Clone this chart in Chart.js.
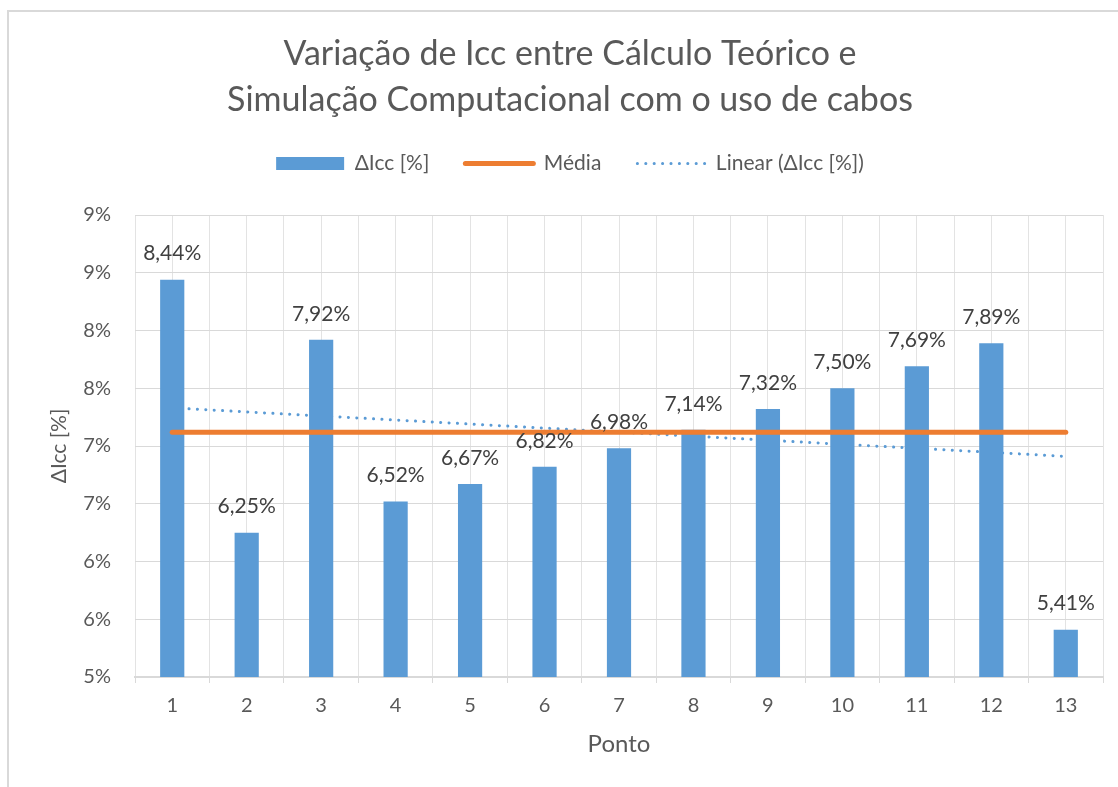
<!DOCTYPE html>
<html><head><meta charset="utf-8">
<script src="https://cdn.jsdelivr.net/npm/chart.js@4.4.1/dist/chart.umd.min.js"></script>
<style>
html,body{margin:0;padding:0;background:#fff;overflow:hidden;}
#frame{position:absolute;left:7px;top:10px;width:1111px;height:777px;border-left:2px solid #d9d9d9;border-top:2px solid #d9d9d9;box-sizing:border-box;}
#wrap{position:absolute;left:0;top:0;width:1118px;height:787px;}
</style></head>
<body>
<div id="frame"></div>
<div id="wrap"><canvas id="c" width="1118" height="787"></canvas></div>
<script>
// ---- data ----
const categories = ['1','2','3','4','5','6','7','8','9','10','11','12','13'];
const deltaIcc = [8.44, 6.25, 7.92, 6.52, 6.67, 6.82, 6.98, 7.14, 7.32, 7.50, 7.69, 7.89, 5.41];
const mediaValue = 7.12;
const trendEnds = [7.33, 6.91];     // linear trend value at point 1 and point 13
const yTickLabels = ['5%','6%','6%','7%','7%','8%','8%','9%','9%'];
const seriesNames = ['ΔIcc [%]', 'Média', 'Linear (ΔIcc [%])'];
const titleLines = ['Variação de Icc entre Cálculo Teórico e', 'Simulação Computacional com o uso de cabos'];

const BLUE = '#5b9bd5', ORANGE = '#ed7d31', TXT = '#595959';
Chart.defaults.font.family = 'Lato, "Open Sans", sans-serif';
Chart.defaults.color = TXT;

const dataLabels = {
  id: 'dataLabels',
  afterDraw(chart) {
    const meta = chart.getDatasetMeta(0);
    const ctx = chart.ctx;
    ctx.save();
    ctx.font = '21px Lato, "Open Sans", sans-serif';
    ctx.fillStyle = '#404040';
    ctx.textAlign = 'center';
    ctx.textBaseline = 'middle';
    meta.data.forEach((bar, i) => {
      const txt = deltaIcc[i].toFixed(2).replace('.', ',') + '%';
      ctx.fillText(txt, bar.x, bar.y - 26);
    });
    ctx.restore();
  }
};

new Chart(document.getElementById('c'), {
  type: 'bar',
  data: {
    labels: categories,
    datasets: [
      { type: 'bar', label: seriesNames[0], data: deltaIcc, backgroundColor: BLUE,
        categoryPercentage: 1, barPercentage: 0.325, order: 1 },
      { type: 'line', label: seriesNames[1],
        data: [{x: categories[0], y: mediaValue}, {x: categories[categories.length-1], y: mediaValue}],
        borderColor: ORANGE, borderWidth: 5, borderCapStyle: 'round', pointRadius: 0, order: 0 },
      { type: 'line', label: seriesNames[2],
        data: [{x: categories[0], y: trendEnds[0]}, {x: categories[categories.length-1], y: trendEnds[1]}],
        borderColor: BLUE, borderWidth: 3, borderCapStyle: 'round', borderDash: [0.1, 8.3],
        pointRadius: 0, order: 2 }
    ]
  },
  options: {
    responsive: false,
    animation: false,
    devicePixelRatio: 1,
    layout: { padding: { left: 37, right: 15, top: 0, bottom: 0 } },
    plugins: {
      tooltip: { enabled: false },
      title: {
        display: true, text: titleLines, color: TXT,
        font: { size: 34, weight: 'normal', lineHeight: 46/34 },
        padding: { top: 31, bottom: -6 }
      },
      legend: {
        display: true, position: 'top',
        labels: {
          color: TXT, font: { size: 21 }, padding: 36,
          usePointStyle: true, pointStyleWidth: 68, boxHeight: 13,
          generateLabels() {
            return [
              { text: seriesNames[0], fillStyle: BLUE, strokeStyle: BLUE, lineWidth: 0, pointStyle: 'rect', datasetIndex: 0, fontColor: TXT },
              { text: seriesNames[1], fillStyle: ORANGE, strokeStyle: ORANGE, lineWidth: 5, lineCap: 'round', pointStyle: 'line', datasetIndex: 1, fontColor: TXT },
              { text: seriesNames[2], fillStyle: BLUE, strokeStyle: BLUE, lineWidth: 3, lineCap: 'round', lineDash: [0.1, 8.3], pointStyle: 'line', datasetIndex: 2, fontColor: TXT }
            ];
          }
        }
      }
    },
    scales: {
      x: {
        type: 'category', position: 'bottom', offset: true,
        grid: { offset: true, color: '#e3e3e3', lineWidth: 1, drawTicks: true, tickLength: 6, tickColor: '#d9d9d9' },
        border: { display: true, color: '#d9d9d9', width: 2 },
        ticks: { color: TXT, font: { size: 20 }, padding: 11, maxRotation: 0, autoSkip: false },
        title: { display: true, text: 'Ponto', color: TXT, font: { size: 24, lineHeight: 1.2 }, padding: { top: 0, bottom: 28 } },
        afterFit(s) { s.height = 110; }
      },
      x2: {
        type: 'category', position: 'top', offset: true, labels: categories,
        grid: { offset: false, color: '#e3e3e3', lineWidth: 1, drawTicks: false },
        border: { display: false },
        ticks: { display: false },
        afterFit(s) { s.height = 31; }
      },
      y: {
        min: 5, max: 9,
        grid: { color: '#d9d9d9', lineWidth: 1, drawTicks: false },
        border: { display: false },
        ticks: { stepSize: 0.5, color: TXT, font: { size: 20 }, padding: 24,
                 callback: (v, i) => yTickLabels[i] },
        title: { display: true, text: 'ΔIcc [%]', color: TXT, font: { size: 21, lineHeight: 1.2 }, padding: { top: 10, bottom: 0 } },
        afterFit(s) { s.width = 98; }
      }
    }
  },
  plugins: [dataLabels]
});
</script>
</body></html>
